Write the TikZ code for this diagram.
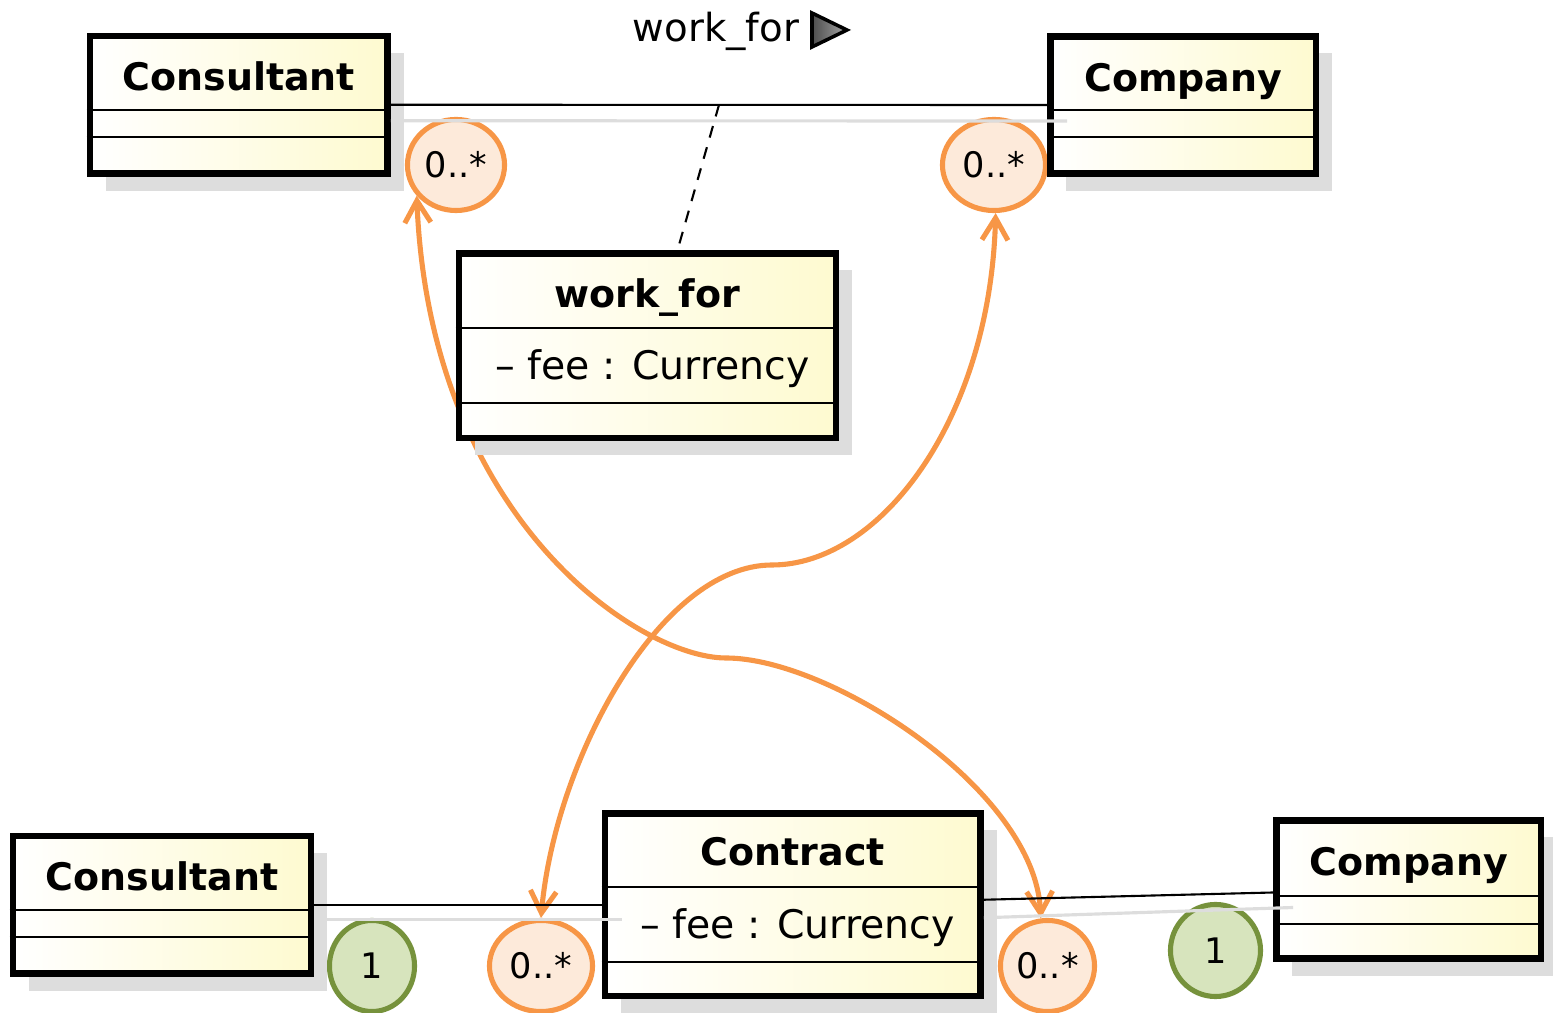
\documentclass[tikz,border=0pt]{standalone}
\usepackage{fontspec}
\setmainfont{DejaVu Sans}
\usetikzlibrary{arrows.meta,calc,shapes.geometric,shadows}

\definecolor{classyellow}{RGB}{254,250,208}
\definecolor{shadowgray}{RGB}{221,221,221}
\definecolor{multorange}{RGB}{247,150,70}
\definecolor{multorangefill}{RGB}{253,234,218}
\definecolor{multgreen}{RGB}{118,146,60}
\definecolor{multgreenfill}{RGB}{215,228,189}

\tikzset{
  classbox/.style={draw, line width=1.85pt, left color=white, right color=classyellow, inner sep=0pt,
    drop shadow={shadow xshift=1.6mm, shadow yshift=-1.7mm, fill=shadowgray, opacity=1}},
  classname/.style={font=\fontsize{10.8}{12}\selectfont\bfseries, anchor=base, inner sep=0pt},
  attrtext/.style={font=\fontsize{11.2}{13}\selectfont, anchor=base west, inner sep=0pt},
  divider/.style={line width=0.6pt},
  link/.style={line width=0.6pt},
  linkshadow/.style={shadowgray, line width=0.9pt},
  assocdash/.style={line width=0.6pt, dash pattern=on 1.2mm off 1mm},
  navtri/.style={draw=black, line width=1pt, line join=miter, left color=black!70, right color=black!35},
  mult/.style={ellipse, line width=1.45pt, inner sep=0pt, font=\fontsize{10}{12}\selectfont},
  multmany/.style={mult, draw=multorange, fill=multorangefill},
  multone/.style={mult, draw=multgreen, fill=multgreenfill},
  crossref/.style={multorange, line width=1.45pt, >={Straight Barb[length=2.2mm,width=2.6mm]}, <->}
}

\begin{document}
\begin{tikzpicture}[x=0.01cm, y=-0.01cm]
\useasboundingbox (0,0) rectangle (1553,1013);

\node[multmany, minimum width=0.97cm, minimum height=0.91cm] (m1) at (456,165) {0..*};
\node[multmany, minimum width=1.03cm, minimum height=0.91cm] (m2) at (994,165) {0..*};
\node[multone, minimum width=0.85cm, minimum height=0.91cm] (o1) at (372,966) {1};
\node[multmany, minimum width=1.03cm, minimum height=0.91cm] (m3) at (541,966) {0..*};
\node[multmany, minimum width=0.94cm, minimum height=0.91cm] (m4) at (1047.5,966) {0..*};
\node[multone, minimum width=0.90cm, minimum height=0.92cm] (o2) at (1215.5,950.5) {1};

\draw[crossref] (m1.218) .. controls (430,520) and (640,658) .. (726,658)
  .. controls (830,658) and (1035,790) .. (m4.98);
\draw[crossref] (m2.272) .. controls (990,420) and (880,565) .. (772,565)
  .. controls (660,565) and (555,760) .. (m3.north);

\node[classbox, minimum width=2.975cm, minimum height=1.375cm] (cons1) at (238.75,104.75) {};
\node[classbox, minimum width=2.655cm, minimum height=1.37cm] (comp1) at (1183.25,105) {};
\node[classbox, minimum width=3.77cm, minimum height=1.845cm] (wf) at (647.5,345.75) {};
\node[classbox, minimum width=2.98cm, minimum height=1.375cm] (cons2) at (162,904.75) {};
\node[classbox, minimum width=3.755cm, minimum height=1.825cm] (ctr) at (792.75,904.75) {};
\node[classbox, minimum width=2.645cm, minimum height=1.38cm] (comp2) at (1408.75,889.5) {};

\node[classname] (cons1n) at ([yshift=-5.8mm]cons1.north) {Consultant};
\node[classname] (comp1n) at ([yshift=-5.8mm]comp1.north) {Company};
\node[classname] (wfn) at ([yshift=-5.7mm]wf.north) {work\_for};
\node[classname] (cons2n) at ([yshift=-5.8mm]cons2.north) {Consultant};
\node[classname] (ctrn) at ([yshift=-5.5mm]ctr.north) {Contract};
\node[classname] (comp2n) at ([yshift=-5.8mm]comp2.north) {Company};

\node[attrtext] (wfa) at ([xshift=3.9mm, yshift=-12.9mm]wf.north west) {– fee : Currency};
\node[attrtext] (ctra) at ([xshift=3.8mm, yshift=-12.8mm]ctr.north west) {– fee : Currency};

\foreach \c/\a/\b in {cons1/7.7/10.45, comp1/7.7/10.4, cons2/7.7/10.45, comp2/7.85/10.7, wf/7.75/15.25, ctr/7.7/15.15} {
  \draw[divider] ([yshift=-\a mm]\c.north west) -- ([yshift=-\a mm]\c.north east);
  \draw[divider] ([yshift=-\b mm]\c.north west) -- ([yshift=-\b mm]\c.north east);
}

\draw[linkshadow] ([yshift=-1.6mm]cons1.east) -- ([xshift=2mm, yshift=-1.6mm]comp1.west);
\draw[linkshadow] ([yshift=-1.5mm]cons2.east) -- ([xshift=2mm, yshift=-1.5mm]ctr.west);
\draw[linkshadow] ([yshift=-1.3mm]ctr.east) -- ([xshift=2mm, yshift=-1.8mm]comp2.west);

\draw[link] (cons1.east) -- (comp1.west);
\draw[link] (cons2.east) -- (ctr.west);
\draw[link] ([yshift=.5mm]ctr.east) -- ([yshift=-.3mm]comp2.west);

\coordinate (wfmid) at ($(cons1.east)!.5!(comp1.west)$);
\draw[assocdash] (wfmid) -- ([xshift=3mm]wf.north);

\node[font=\fontsize{11}{13}\selectfont, anchor=base] (wflabel) at (716,42) {work\_for};
\coordinate (tri) at (812,30);
\draw[navtri] (tri) ++(0,-17) -- ++(35,17) -- ++(-35,17) -- cycle;
\end{tikzpicture}
\end{document}
